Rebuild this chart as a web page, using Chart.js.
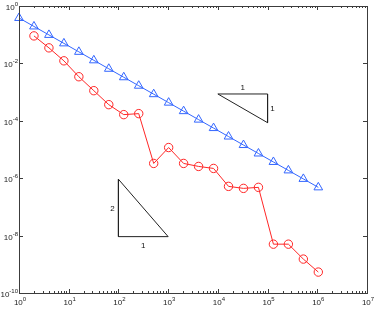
<!DOCTYPE html>
<html>
<head>
<meta charset="utf-8">
<script src="https://cdn.jsdelivr.net/npm/chart.js@4"></script>
<style>
  html,body{margin:0;padding:0;background:#fff;}
  #wrap{width:374px;height:310px;}
</style>
</head>
<body>
<div id="wrap"><canvas id="myChart" width="374" height="310"></canvas></div>
<script>
// datos (log-log)
const xValues   = [1,2,4,8,16,32,64,128,256,512,1024,2048,4096,8192,16384,32768,65536,131072,262144,524288,1048576]
const blueValues= [0.383,0.194,0.0984,0.0499,0.0253,0.0128,0.0065,0.00329,0.00167,8.46e-4,4.29e-4,2.17e-4,1.10e-4,5.58e-5,2.83e-5,1.43e-5,7.26e-6,3.68e-6,1.87e-6,9.46e-7,4.80e-7]
const redX      = [2,4,8,16,32,64,128,256,512,1024,2048,4096,8192,16384,32768,65536,131072,262144,524288,1048576]
const redValues = [0.0908,0.0348,0.0123,0.00343,0.00112,3.65e-4,1.64e-4,1.78e-4,3.27e-6,1.17e-5,3.27e-6,2.57e-6,2.19e-6,5.19e-7,4.42e-7,4.80e-7,5.03e-9,5.03e-9,1.52e-9,5.36e-10]

// triangulos de pendiente
const tri1X = [1e4,1e5,1e5,1e4]
const tri1Y = [8.6e-4,8.6e-4,8.6e-5,8.6e-4]
const tri2X = [1e2,1e2,1e3,1e2]
const tri2Y = [9.2e-7,9.2e-9,9.2e-9,9.2e-7]

// ticks
const xTickExps = [0,1,2,3,4,5,6,7]
const yTickExps = [0,-2,-4,-6,-8,-10]

const toPts=(xs,ys)=>xs.map((x,i)=>({x:x,y:ys[i]}))

const fuente='"Liberation Sans", Arial, sans-serif'

// dibuja caja, ticks y etiquetas estilo matlab
const ejesPlugin={
  id:'ejes',
  afterDraw(chart){
    const c=chart.ctx
    const a=chart.chartArea
    const sx=chart.scales.x, sy=chart.scales.y
    c.save()
    c.strokeStyle='#3c3c3c'
    c.lineWidth=1
    c.beginPath()
    // ticks x
    for (const e of xTickExps) {
      const px=Math.round(sx.getPixelForValue(Math.pow(10,e)))+0.5
      c.moveTo(px,a.bottom);c.lineTo(px,a.bottom-4)
      c.moveTo(px,a.top);c.lineTo(px,a.top+4)
      if(e<7){
        for(let m=2;m<10;m++){
          const pm=Math.round(sx.getPixelForValue(m*Math.pow(10,e)))+0.5
          c.moveTo(pm,a.bottom);c.lineTo(pm,a.bottom-2)
          c.moveTo(pm,a.top);c.lineTo(pm,a.top+2)
        }
      }
    }
    // ticks y
    for (const e of yTickExps) {
      const py=Math.round(sy.getPixelForValue(Math.pow(10,e)))+0.5
      c.moveTo(a.left,py);c.lineTo(a.left+4,py)
      c.moveTo(a.right,py);c.lineTo(a.right-4,py)
    }
    c.stroke()
    c.strokeRect(Math.round(a.left)+0.5,Math.round(a.top)+0.5,Math.round(a.right-a.left),Math.round(a.bottom-a.top))

    // etiquetas
    c.fillStyle='#222'
    c.textBaseline='alphabetic'
    for (const e of xTickExps) {
      const px=sx.getPixelForValue(Math.pow(10,e))
      c.font='8px '+fuente
      const w=c.measureText('10').width
      c.font='6px '+fuente
      const we=c.measureText(String(e)).width
      const x0=px-(w+we)/2+1
      c.font='8px '+fuente
      c.textAlign='left'
      c.fillText('10',x0,a.bottom+12)
      c.font='6px '+fuente
      c.fillText(String(e),x0+w,a.bottom+8)
    }
    for (const e of yTickExps) {
      const py=sy.getPixelForValue(Math.pow(10,e))
      const s=String(e)
      c.font='6px '+fuente
      const we=c.measureText(s).width
      c.font='8px '+fuente
      const w=c.measureText('10').width
      const x0=a.left-1-we-w
      c.textAlign='left'
      c.fillText('10',x0,py+4)
      c.font='6px '+fuente
      c.fillText(s,x0+w,py)
    }

    // etiquetas de los triangulos
    c.font='8px '+fuente
    c.textAlign='center'
    c.fillStyle='#111'
    const t1x=sx.getPixelForValue(Math.sqrt(tri1X[0]*tri1X[1]))
    const t1y=sy.getPixelForValue(tri1Y[0])
    c.fillText('1',t1x,t1y-4)
    const t1vx=sx.getPixelForValue(tri1X[1])
    const t1vy=sy.getPixelForValue(Math.sqrt(tri1Y[1]*tri1Y[2]))
    c.fillText('1',t1vx+5,t1vy+3)
    const t2vx=sx.getPixelForValue(tri2X[0])
    const t2vy=sy.getPixelForValue(Math.sqrt(tri2Y[0]*tri2Y[1]))
    c.fillText('2',t2vx-6,t2vy+3)
    const t2hx=sx.getPixelForValue(Math.sqrt(tri2X[1]*tri2X[2]))
    const t2hy=sy.getPixelForValue(tri2Y[1])
    c.fillText('1',t2hx,t2hy+11)
    c.restore()
  }
}

const ctx=document.getElementById('myChart')
const myChart=new Chart(ctx,{
  type:'scatter',
  data:{
    datasets:[
      {data:toPts(tri1X,tri1Y),showLine:true,borderColor:'#222',borderWidth:1,pointRadius:0,clip:false},
      {data:toPts(tri2X,tri2Y),showLine:true,borderColor:'#222',borderWidth:1,pointRadius:0,clip:false},
      {data:toPts(redX,redValues),showLine:true,borderColor:'#ff2626',borderWidth:1,
        pointStyle:'circle',pointRadius:4.2,pointBorderWidth:1,pointBorderColor:'#ff2626',pointBackgroundColor:'rgba(0,0,0,0)',clip:false},
      {data:toPts(xValues,blueValues),showLine:true,borderColor:'#3366ff',borderWidth:1,
        pointStyle:'triangle',pointRadius:5,pointBorderWidth:1,pointBorderColor:'#3366ff',pointBackgroundColor:'rgba(0,0,0,0)',clip:false}
    ]
  },
  plugins:[ejesPlugin],
  options:{
    responsive:false,
    animation:false,
    layout:{padding:{left:19,top:5,right:7,bottom:17}},
    plugins:{legend:{display:false},tooltip:{enabled:false}},
    scales:{
      x:{type:'logarithmic',min:1,max:1e7,grid:{display:false},ticks:{display:false},border:{display:false},
         afterFit:(s)=>{s.height=0}},
      y:{type:'logarithmic',min:1e-10,max:1,grid:{display:false},ticks:{display:false},border:{display:false},
         afterFit:(s)=>{s.width=0}}
    }
  }
})
</script>
</body>
</html>
